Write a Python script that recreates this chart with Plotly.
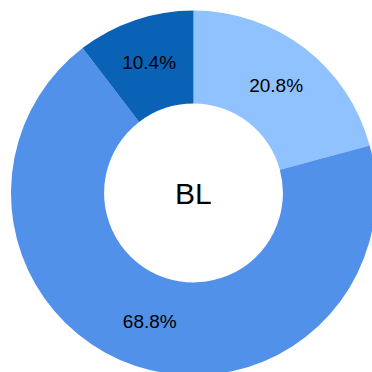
import plotly.graph_objects as go

labels = ["A", "B", "C"]
values = [20.8, 68.8, 10.4]
colors = ["#90c2ff", "#5291e9", "#0a62b7"]
center_label = "BL"

fig = go.Figure(
    go.Pie(
        labels=labels,
        values=values,
        hole=0.49,
        sort=False,
        direction="clockwise",
        rotation=0,
        marker=dict(colors=colors, line=dict(width=0)),
        texttemplate="%{percent:.1%}",
        textposition="inside",
        insidetextorientation="horizontal",
        textfont=dict(family="Liberation Sans, Arial, sans-serif", size=19, color="#000000"),
        hoverinfo="label+percent",
        showlegend=False,
    )
)

fig.add_annotation(
    text=center_label, x=0.5, y=0.5, xref="paper", yref="paper",
    showarrow=False, font=dict(family="Liberation Sans, Arial, sans-serif", size=30, color="#000000"),
)

fig.update_layout(
    width=376, height=376,
    margin=dict(l=11, r=0, t=10, b=0),
    paper_bgcolor="#ffffff", plot_bgcolor="#ffffff",
)

fig.write_html(
    "out.html",
    config={"displayModeBar": False},
    post_script="document.body.style.margin='0';document.body.style.overflow='hidden';",
)
